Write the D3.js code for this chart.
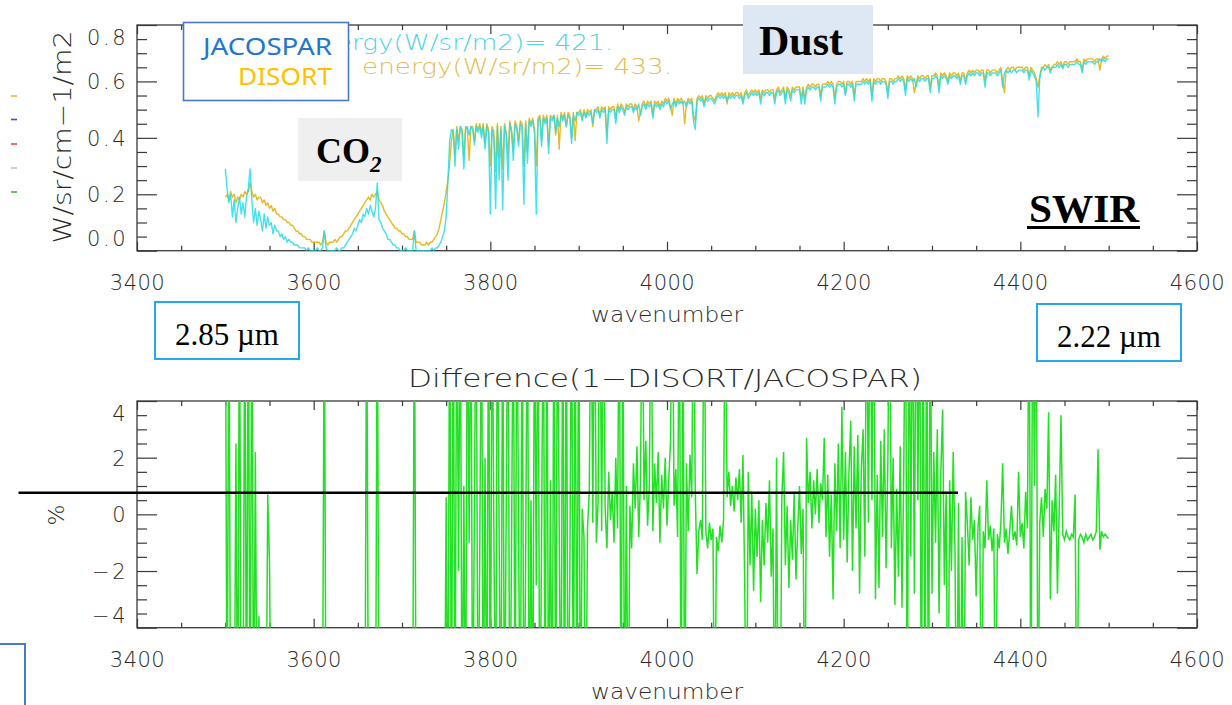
<!DOCTYPE html>
<html>
<head>
<meta charset="utf-8">
<script src="https://cdn.jsdelivr.net/npm/d3@7"></script>
<style>
  body { margin: 0; background: #fff; }
  svg { display: block; }
</style>
</head>
<body>
<svg id="chart" width="1232" height="705"></svg>
<script>
// Spectral grid: wavenumber (cm-1) of the first sample and sample spacing
const wnStart = 3500;
const wnStep = 2;

// Radiance (W/sr/cm-1/m2) from the JACOSPAR model, one row per 20 cm-1
const jacospar = [
  0.29, 0.22, 0.17, 0.20, 0.12, 0.18, 0.10, 0.15, 0.19, 0.13,
  0.17, 0.12, 0.19, 0.22, 0.29, 0.18, 0.10, 0.15, 0.09, 0.14,
  0.11, 0.07, 0.13, 0.08, 0.12, 0.09, 0.10, 0.06, 0.09, 0.07,
  0.07, 0.05, 0.06, 0.04, 0.05, 0.03, 0.04, 0.03, 0.03, 0.02,
  0.02, 0.02, 0.01, 0.01, 0.01, 0.01, 0.00, 0.01, 0.00, 0.00,
  0.00, 0.00, 0.01, 0.00, 0.00, 0.01, 0.07, 0.01, 0.00, 0.00,
  0.00, 0.00, 0.00, 0.01, 0.00, 0.00, 0.01, 0.01, 0.02, 0.03,
  0.04, 0.05, 0.06, 0.08, 0.07, 0.09, 0.11, 0.10, 0.13, 0.12,
  0.15, 0.13, 0.16, 0.14, 0.12, 0.15, 0.24, 0.11, 0.10, 0.08,
  0.07, 0.06, 0.04, 0.04, 0.03, 0.02, 0.02, 0.01, 0.01, 0.00,
  0.00, 0.00, 0.01, 0.00, 0.00, 0.00, 0.00, 0.07, 0.00, 0.00,
  0.00, 0.00, 0.00, 0.00, 0.00, 0.00, 0.00, 0.01, 0.00, 0.01,
  0.01, 0.02, 0.03, 0.05, 0.07, 0.12, 0.25, 0.39, 0.43, 0.42,
  0.30, 0.43, 0.36, 0.44, 0.42, 0.29, 0.43, 0.44, 0.41, 0.44,
  0.43, 0.375, 0.44, 0.42, 0.44, 0.40, 0.44, 0.36, 0.44, 0.42,
  0.13, 0.43, 0.40, 0.15, 0.44, 0.25, 0.43, 0.145, 0.44, 0.41,
  0.25, 0.45, 0.42, 0.32, 0.45, 0.43, 0.37, 0.45, 0.44, 0.165,
  0.45, 0.31, 0.46, 0.44, 0.46, 0.42, 0.13, 0.46, 0.47, 0.37,
  0.47, 0.45, 0.47, 0.345, 0.47, 0.46, 0.48, 0.42, 0.47, 0.44,
  0.48, 0.46, 0.48, 0.44, 0.48, 0.47, 0.38, 0.48, 0.46, 0.49,
  0.48, 0.49, 0.46, 0.49, 0.47, 0.49, 0.48, 0.49, 0.45, 0.50,
  0.49, 0.50, 0.47, 0.50, 0.49, 0.50, 0.38, 0.50, 0.49, 0.50,
  0.50, 0.45, 0.51, 0.49, 0.51, 0.50, 0.48, 0.51, 0.50, 0.51,
  0.51, 0.49, 0.51, 0.50, 0.52, 0.48, 0.51, 0.52, 0.50, 0.52,
  0.51, 0.52, 0.47, 0.52, 0.51, 0.52, 0.50, 0.52, 0.51, 0.53,
  0.52, 0.53, 0.50, 0.52, 0.53, 0.51, 0.53, 0.52, 0.53, 0.52,
  0.53, 0.51, 0.53, 0.52, 0.53, 0.46, 0.43, 0.53, 0.54, 0.53,
  0.54, 0.51, 0.54, 0.53, 0.54, 0.54, 0.53, 0.52, 0.54, 0.55,
  0.54, 0.55, 0.54, 0.55, 0.53, 0.55, 0.54, 0.55, 0.54, 0.55,
  0.55, 0.54, 0.55, 0.52, 0.55, 0.56, 0.54, 0.55, 0.56, 0.55,
  0.56, 0.55, 0.56, 0.52, 0.56, 0.55, 0.56, 0.56, 0.55, 0.56,
  0.56, 0.52, 0.56, 0.57, 0.55, 0.56, 0.57, 0.52, 0.57, 0.56,
  0.53, 0.57, 0.56, 0.57, 0.57, 0.57, 0.52, 0.57, 0.52, 0.57,
  0.58, 0.57, 0.58, 0.58, 0.57, 0.58, 0.58, 0.53, 0.58, 0.58,
  0.58, 0.59, 0.58, 0.59, 0.58, 0.52, 0.58, 0.59, 0.59, 0.58,
  0.59, 0.55, 0.59, 0.59, 0.58, 0.59, 0.53, 0.59, 0.59, 0.59,
  0.59, 0.60, 0.59, 0.60, 0.59, 0.60, 0.53, 0.60, 0.59, 0.60,
  0.60, 0.59, 0.60, 0.60, 0.59, 0.54, 0.60, 0.60, 0.59, 0.60,
  0.60, 0.61, 0.60, 0.61, 0.60, 0.55, 0.61, 0.60, 0.61, 0.60,
  0.61, 0.58, 0.61, 0.60, 0.61, 0.61, 0.60, 0.61, 0.61, 0.56,
  0.61, 0.61, 0.62, 0.61, 0.56, 0.62, 0.61, 0.62, 0.61, 0.59,
  0.62, 0.61, 0.62, 0.62, 0.61, 0.62, 0.59, 0.62, 0.62, 0.59,
  0.62, 0.63, 0.62, 0.63, 0.62, 0.63, 0.63, 0.62, 0.63, 0.63,
  0.58, 0.63, 0.63, 0.62, 0.63, 0.63, 0.63, 0.62, 0.63, 0.64,
  0.58, 0.63, 0.64, 0.63, 0.64, 0.63, 0.64, 0.64, 0.63, 0.64,
  0.64, 0.64, 0.63, 0.64, 0.64, 0.605, 0.64, 0.63, 0.62, 0.60,
  0.475, 0.61, 0.64, 0.65, 0.64, 0.65, 0.65, 0.63, 0.65, 0.65,
  0.65, 0.66, 0.65, 0.66, 0.645, 0.66, 0.66, 0.65, 0.66, 0.66,
  0.66, 0.66, 0.67, 0.66, 0.66, 0.63, 0.67, 0.66, 0.67, 0.67,
  0.67, 0.67, 0.66, 0.67, 0.67, 0.68, 0.67, 0.68, 0.67, 0.68,
  0.68
];

// Radiance (W/sr/cm-1/m2) from DISORT on the same grid
const disort = [
  0.19, 0.20, 0.18, 0.21, 0.19, 0.20, 0.17, 0.19, 0.18, 0.20,
  0.19, 0.21, 0.20, 0.21, 0.24, 0.21, 0.19, 0.20, 0.18, 0.19,
  0.19, 0.17, 0.18, 0.16, 0.17, 0.15, 0.16, 0.14, 0.15, 0.13,
  0.13, 0.12, 0.12, 0.11, 0.11, 0.10, 0.10, 0.09, 0.09, 0.08,
  0.07, 0.07, 0.06, 0.06, 0.05, 0.05, 0.04, 0.04, 0.04, 0.03,
  0.03, 0.03, 0.03, 0.03, 0.02, 0.03, 0.07, 0.03, 0.02, 0.03,
  0.03, 0.03, 0.04, 0.03, 0.04, 0.05, 0.05, 0.06, 0.07, 0.07,
  0.08, 0.09, 0.10, 0.11, 0.12, 0.13, 0.14, 0.15, 0.16, 0.17,
  0.18, 0.19, 0.18, 0.20, 0.19, 0.20, 0.21, 0.18, 0.17, 0.16,
  0.14, 0.13, 0.12, 0.11, 0.10, 0.09, 0.08, 0.08, 0.07, 0.07,
  0.06, 0.06, 0.05, 0.05, 0.04, 0.04, 0.04, 0.07, 0.03, 0.03,
  0.03, 0.02, 0.02, 0.02, 0.03, 0.02, 0.03, 0.03, 0.04, 0.05,
  0.06, 0.08, 0.11, 0.14, 0.17, 0.21, 0.25, 0.31, 0.39, 0.43,
  0.34, 0.44, 0.39, 0.44, 0.43, 0.33, 0.44, 0.43, 0.32, 0.44,
  0.44, 0.39, 0.45, 0.43, 0.45, 0.42, 0.45, 0.38, 0.45, 0.43,
  0.30, 0.44, 0.42, 0.28, 0.45, 0.33, 0.44, 0.29, 0.45, 0.42,
  0.33, 0.46, 0.43, 0.36, 0.46, 0.44, 0.39, 0.46, 0.45, 0.30,
  0.46, 0.35, 0.47, 0.45, 0.47, 0.43, 0.30, 0.47, 0.48, 0.39,
  0.48, 0.46, 0.48, 0.37, 0.48, 0.47, 0.48, 0.41, 0.48, 0.36,
  0.49, 0.47, 0.49, 0.44, 0.49, 0.48, 0.40, 0.49, 0.39, 0.49,
  0.49, 0.50, 0.47, 0.50, 0.48, 0.50, 0.49, 0.50, 0.44, 0.50,
  0.50, 0.51, 0.48, 0.51, 0.50, 0.51, 0.41, 0.51, 0.50, 0.51,
  0.51, 0.47, 0.52, 0.50, 0.52, 0.51, 0.49, 0.52, 0.51, 0.52,
  0.52, 0.50, 0.52, 0.51, 0.46, 0.49, 0.52, 0.53, 0.51, 0.53,
  0.52, 0.53, 0.48, 0.53, 0.52, 0.53, 0.51, 0.53, 0.52, 0.54,
  0.53, 0.54, 0.51, 0.48, 0.54, 0.52, 0.54, 0.53, 0.54, 0.53,
  0.45, 0.52, 0.54, 0.53, 0.54, 0.48, 0.46, 0.54, 0.55, 0.54,
  0.55, 0.52, 0.55, 0.54, 0.55, 0.55, 0.54, 0.53, 0.55, 0.56,
  0.55, 0.56, 0.55, 0.56, 0.52, 0.56, 0.55, 0.56, 0.55, 0.56,
  0.56, 0.55, 0.56, 0.53, 0.56, 0.57, 0.55, 0.56, 0.57, 0.56,
  0.57, 0.56, 0.57, 0.54, 0.57, 0.56, 0.57, 0.57, 0.56, 0.57,
  0.57, 0.54, 0.57, 0.58, 0.56, 0.57, 0.58, 0.54, 0.58, 0.57,
  0.55, 0.58, 0.57, 0.58, 0.58, 0.58, 0.54, 0.58, 0.54, 0.58,
  0.59, 0.58, 0.59, 0.59, 0.58, 0.59, 0.59, 0.55, 0.59, 0.59,
  0.59, 0.60, 0.59, 0.60, 0.59, 0.54, 0.59, 0.60, 0.60, 0.59,
  0.60, 0.56, 0.60, 0.60, 0.59, 0.60, 0.55, 0.60, 0.60, 0.60,
  0.60, 0.61, 0.60, 0.61, 0.60, 0.61, 0.55, 0.61, 0.60, 0.61,
  0.61, 0.60, 0.61, 0.61, 0.60, 0.56, 0.61, 0.61, 0.60, 0.61,
  0.61, 0.62, 0.61, 0.62, 0.61, 0.57, 0.62, 0.61, 0.62, 0.61,
  0.56, 0.59, 0.62, 0.61, 0.62, 0.62, 0.61, 0.62, 0.62, 0.58,
  0.62, 0.62, 0.63, 0.62, 0.58, 0.63, 0.62, 0.63, 0.62, 0.60,
  0.63, 0.62, 0.63, 0.63, 0.62, 0.63, 0.60, 0.63, 0.63, 0.60,
  0.63, 0.64, 0.63, 0.64, 0.63, 0.64, 0.64, 0.63, 0.64, 0.64,
  0.60, 0.64, 0.64, 0.63, 0.64, 0.64, 0.64, 0.63, 0.64, 0.65,
  0.60, 0.56, 0.64, 0.65, 0.64, 0.65, 0.65, 0.64, 0.65, 0.65,
  0.65, 0.65, 0.64, 0.65, 0.65, 0.62, 0.65, 0.64, 0.63, 0.61,
  0.58, 0.62, 0.65, 0.65, 0.66, 0.65, 0.66, 0.64, 0.65, 0.66,
  0.66, 0.67, 0.66, 0.67, 0.65, 0.67, 0.67, 0.66, 0.67, 0.67,
  0.67, 0.67, 0.68, 0.67, 0.67, 0.64, 0.68, 0.67, 0.68, 0.68,
  0.68, 0.68, 0.67, 0.68, 0.68, 0.64, 0.68, 0.69, 0.68, 0.69,
  0.69
];

// Relative difference 1 - DISORT/JACOSPAR in percent; +/-9 marks values beyond the plotted range
const diffPct = [
   9, -9,  9, -9, -9, -9, 2.5, -9,  9, -9,
  -9,  9, -9,  9, -9,  9, -9, 2.2, -9, -3.6,
  -9, -9, -9, -9, 0.7, -1.7, -9, -9, -9, -9,
  -9, -9, -9, -9, -9, -9, -9, -9, -9, -9,
  -9, -9, -9, -9, -9, -9, -9, -9, -9, -9,
  -9, -9, -9, -9, -9, -9,  9, -9, -9, -9,
  -9, -9, -9, -9, -9, -9, -9, -9, -9, -9,
  -9, -9, -9, -9, -9, -9, -9, -9, -9, -9,
   9, -9, -9, -9, -9, -9,  9, -9, -9, -9,
  -9, -9, -9, -9, -9, -9, -9, -9, -9, -9,
  -9, -9, -9, -9, -9, -9, -9,  9, -9, -9,
  -9, -9, -9, -9, -9, -9, -9, -9, -9, -9,
  -9, -9, -9, -9, -9, 0.6, -9,  9, -9,  9,
  -9,  9, -2,  9, -9,  1, -9,  9, -1,  9,
  -9, 0.5,  9, -9, -1.5,  9, -9,  2, -9,  9,
  -9,  9, -0.5, -9,  9, -1, -9,  9, -9, 0.3,
   9, -9, -1.2,  9, -9,  9, -0.8, -9,  9, -9,
  -1.5,  9, -9, 0.5, -9,  9, -2.5,  9, -9, -1,
   9, -9,  9, -9, 1.2, -9,  9, -9,  9, -0.5,
  -9,  9, -9,  9, -9, -2,  9, -9,  9, -9,
   9, -9, 0.2, -0.8, -9, -0.5, 0.8,  9, -0.3,  9,
  -1.0, 0.4,  9, -0.6,  9, 0.2, -1.2, 1.5, -0.2, 0.8,
  -1.0, 2.0, -0.5,  9, -9,  9, -9, 1.0, -9, 0.3,
  -1.2, 1.8, 0.2, 2.4, -0.8, 1.2,  9, 0.5, 2.6, -0.4,
  1.0,  9, -0.6, 1.8, 0.4, 2.2, -1.0, 1.4, 0.2, 2.0,
  -0.4, 1.2, 2.6,  9, 0.3, 1.6, -0.8,  9, -9,  9,
  -9, 1.8, -0.6, 2.1, 0.6,  9, 0.8, -2.1, -0.6, -0.2,
  -0.9,  9, -0.6, -1.2, -0.3, -0.9, -0.5, -9, -0.8, -1.3,
  -0.4, -1.0, -0.2,  9, 0.6, 1.5, 0.3, 1.0, 0.1, 1.3,
  0.5, 1.6, -0.3, 2.1, -2.5, -9, 1.5, -1.8, 0.8, -2.7,
  0.2, -1.5, 0.5, -3.1, -0.2, -1.8, 0.4, -1.0, 1.2, -2.2,
  -0.5, -9, 2.0, -9, -9, 0.6, 2.2, -1.8, 0.3, -2.6,
  -0.2, -1.6, 0.8, -2.3, -0.5, 1.0, -1.4, 0.2, -9, 2.7,
  0.4, 1.5, -0.5, 1.2, 0.0, 1.6, -0.3, 1.1, 0.5, 2.7,
  -0.8, 1.4, -1.5, 0.7, -3.0, 1.8, -0.6, 2.5, -1.2, 3.8,
  -0.9, 2.2, -1.7, 1.5, 3.3, -2.0, 2.4, -0.5, 2.8, -2.8,
  1.6, 3.0, -1.5,  9, -0.3,  9, 0.5,  9, -3.0, 1.4,
  -2.6, 2.6, -0.8, 3.0, -1.9, 1.8,  9, -1.2, 2.0, -3.2,
  0.9, -2.2, 2.4, -3.3, 1.5,  9, -9,  9, -1.5,  9,
  -2.8,  9, 0.5,  9, -9,  9, -9,  9, -9,  9,
  -2.8, 2.2, -1.0, 3.0, -3.5, 1.5, 3.7, -2.5, 0.8, -9,
  1.2, -2.0, 2.2, -1.2, -9, 0.4, -9, -0.8, -9, 0.8,
  -0.3, -1.8, 0.6, -0.9, -0.2, -2.9, -0.5, 0.3, -9, -0.6,
  -1.2, 1.2, -0.9, -0.4, -1.3, -0.5, -9, -0.7, -1.2, -0.3,
  1.8, -1.0, -0.5, -1.4, -0.6, 0.3, -0.9, -0.6, -1.1, 1.5,
  -0.8, -0.3, -1.2, 0.8, -0.5,  9, -9,  9, 1.0,  9,
  -9, -0.3, 0.6, -0.8, 0.9, 0.2, 3.6, -3.0, 0.5, -0.6,
  1.4, -2.8, 0.2, 3.5, -0.7, -0.9, -0.6, -0.8, -0.9, -0.7,
  -0.8, 0.7, -9, -0.9, -0.7, -0.8, -1.0, -0.7, -0.9, -0.8,
  -0.7, -0.9, -0.8, -0.6, 2.3, -1.25, -0.6, -0.8, -0.7, -0.8,
  -0.85
];

// Axis ranges and tick labels
const xDomain = [3400, 4600];
const xTickLabels = [3400, 3600, 3800, 4000, 4200, 4400, 4600];
const radDomain = [0, 0.8];
const radTickLabels = [0.0, 0.2, 0.4, 0.6, 0.8];
const pctDomain = [-4, 4];
const pctTickLabels = [-4, -2, 0, 2, 4];

// Band-integrated energies printed in the top panel
const energyJacospar = 421;
const energyDisort = 433;

const W = 1232, H = 705;
const svg = d3.select("#chart");
svg.append("rect").attr("width", W).attr("height", H).attr("fill", "#fff");

const plotL = 137, plotR = 1197;
const topPanel = { top: 25, bottom: 250.7 };
const botPanel = { top: 401, bottom: 627.7 };

const x = d3.scaleLinear().domain(xDomain).range([plotL, plotR]);
const yRad = d3.scaleLinear().domain(radDomain).range([topPanel.bottom, topPanel.top]);
const yPct = d3.scaleLinear().domain(pctDomain).range([botPanel.bottom, botPanel.top]);

const axisFont = "'DejaVu Sans', 'Liberation Sans', sans-serif";
const inkColor = "#2a2a2a";

// clip regions for the two panels
const defs = svg.append("defs");
defs.append("clipPath").attr("id", "clipTop").append("rect")
  .attr("x", plotL).attr("y", topPanel.top)
  .attr("width", plotR - plotL).attr("height", topPanel.bottom - topPanel.top);
defs.append("clipPath").attr("id", "clipBot").append("rect")
  .attr("x", plotL).attr("y", botPanel.top)
  .attr("width", plotR - plotL).attr("height", botPanel.bottom - botPanel.top);

function styleAxis(g, spacing) {
  g.select(".domain").remove();
  g.selectAll("line").attr("stroke", "#3a3a3a").attr("stroke-width", 1.2);
  g.selectAll("text")
    .attr("font-family", axisFont)
    .attr("font-size", 21)
    .attr("font-weight", 300)
    .attr("letter-spacing", spacing || 0)
    .attr("fill", inkColor);
}

function drawPanel(panel, yScale, yLabels, yMinorStep, yMajorStep, fmt) {
  const g = svg.append("g");
  const xMinor = d3.range(xDomain[0], xDomain[1] + 1, 50).filter(v => v % 200 !== 0);

  // x ticks on bottom and top edges (pointing inward)
  g.append("g").attr("transform", `translate(0,${panel.bottom})`)
    .call(d3.axisBottom(x).tickValues(xMinor).tickSize(-5).tickFormat(""))
    .call(styleAxis);
  g.append("g").attr("transform", `translate(0,${panel.bottom})`)
    .call(d3.axisBottom(x).tickValues(xTickLabels).tickSize(-9).tickPadding(24).tickFormat(d3.format("d")))
    .call(styleAxis, 0.5);
  g.append("g").attr("transform", `translate(0,${panel.top})`)
    .call(d3.axisTop(x).tickValues(xMinor).tickSize(-5).tickFormat(""))
    .call(styleAxis);
  g.append("g").attr("transform", `translate(0,${panel.top})`)
    .call(d3.axisTop(x).tickValues(xTickLabels).tickSize(-9).tickFormat(""))
    .call(styleAxis);

  // y ticks on left and right edges
  const d0 = yScale.domain()[0], d1 = yScale.domain()[1];
  const yMinor = d3.range(d0, d1 + yMinorStep / 2, yMinorStep)
    .filter(v => Math.abs(v / yMajorStep - Math.round(v / yMajorStep)) > 1e-6);
  g.append("g").attr("transform", `translate(${plotL},0)`)
    .call(d3.axisLeft(yScale).tickValues(yMinor).tickSize(-10).tickFormat(""))
    .call(styleAxis);
  const left = g.append("g").attr("transform", `translate(${plotL},0)`)
    .call(d3.axisLeft(yScale).tickValues(yLabels).tickSize(-20).tickPadding(9).tickFormat(fmt))
    .call(styleAxis, 2.5);
  g.append("g").attr("transform", `translate(${plotR},0)`)
    .call(d3.axisRight(yScale).tickValues(yMinor).tickSize(-10).tickFormat(""))
    .call(styleAxis);
  g.append("g").attr("transform", `translate(${plotR},0)`)
    .call(d3.axisRight(yScale).tickValues(yLabels).tickSize(-20).tickFormat(""))
    .call(styleAxis);

  // end labels sit just inside the frame
  left.selectAll(".tick text")
    .attr("dy", d => d === d1 ? "0.95em" : d === d0 ? "-0.25em" : "0.36em");

  // frame
  g.append("rect")
    .attr("x", plotL).attr("y", panel.top)
    .attr("width", plotR - plotL).attr("height", panel.bottom - panel.top)
    .attr("fill", "none").attr("stroke", "#3a3a3a").attr("stroke-width", 1.3);

  // x axis title
  g.append("text")
    .attr("x", (plotL + plotR) / 2).attr("y", panel.bottom + 71)
    .attr("text-anchor", "middle")
    .attr("font-family", axisFont).attr("font-size", 22).attr("font-weight", 300)
    .attr("fill", inkColor)
    .attr("textLength", 152).attr("lengthAdjust", "spacingAndGlyphs")
    .text("wavenumber");
  return g;
}

const idxToWn = i => wnStart + i * wnStep;

// ---------- top panel: radiance spectra ----------
drawPanel(topPanel, yRad, radTickLabels, 0.05, 0.2, d3.format(".1f"));

const radLine = d3.line().x((d, i) => x(idxToWn(i))).y(d => yRad(d));
const spectra = svg.append("g").attr("clip-path", "url(#clipTop)");
spectra.append("path").datum(disort)
  .attr("d", radLine).attr("fill", "none")
  .attr("stroke", "#eab825").attr("stroke-width", 1.4).attr("stroke-linejoin", "round");
spectra.append("path").datum(jacospar)
  .attr("d", radLine).attr("fill", "none")
  .attr("stroke", "#22dce6").attr("stroke-width", 1.4).attr("stroke-opacity", 0.85)
  .attr("stroke-linejoin", "round");

// y axis title (rotated)
svg.append("text")
  .attr("transform", "translate(71,137) rotate(-90)")
  .attr("text-anchor", "middle")
  .attr("font-family", axisFont).attr("font-size", 25).attr("font-weight", 300)
  .attr("fill", inkColor)
  .attr("textLength", 213).attr("lengthAdjust", "spacingAndGlyphs")
  .text("W/sr/cm\u22121/m2");

// energy annotations (partly hidden by the legend box)
svg.append("text")
  .attr("x", 303).attr("y", 50)
  .attr("font-family", axisFont).attr("font-size", 21).attr("font-weight", 300)
  .attr("fill", "#4fd2e2")
  .attr("textLength", 310).attr("lengthAdjust", "spacingAndGlyphs")
  .text(`energy(W/sr/m2)= ${energyJacospar}.`);
svg.append("text")
  .attr("x", 362).attr("y", 74)
  .attr("font-family", axisFont).attr("font-size", 21).attr("font-weight", 300)
  .attr("fill", "#e0bd52")
  .attr("textLength", 310).attr("lengthAdjust", "spacingAndGlyphs")
  .text(`energy(W/sr/m2)= ${energyDisort}.`);

// legend box
svg.append("rect")
  .attr("x", 183.5).attr("y", 22.5).attr("width", 165).attr("height", 78)
  .attr("fill", "#fff").attr("stroke", "#4a78c8").attr("stroke-width", 1.6);
const legendFont = "'Noto Sans', 'Open Sans', sans-serif";
svg.append("text")
  .attr("x", 332).attr("y", 55).attr("text-anchor", "end")
  .attr("font-family", legendFont).attr("font-size", 23)
  .attr("fill", "#2277cc")
  .attr("textLength", 129).attr("lengthAdjust", "spacingAndGlyphs")
  .text("JACOSPAR");
svg.append("text")
  .attr("x", 332).attr("y", 85).attr("text-anchor", "end")
  .attr("font-family", legendFont).attr("font-size", 23)
  .attr("fill", "#ffc000")
  .attr("textLength", 94).attr("lengthAdjust", "spacingAndGlyphs")
  .text("DISORT");

// region labels
const serif = "'Liberation Serif', 'Times New Roman', serif";
svg.append("rect").attr("x", 298).attr("y", 118).attr("width", 104).attr("height", 63)
  .attr("fill", "#efefef");
const co2 = svg.append("text")
  .attr("x", 316).attr("y", 163)
  .attr("font-family", serif).attr("font-weight", "bold").attr("font-size", 36)
  .attr("fill", "#000");
co2.append("tspan").text("CO");
co2.append("tspan").attr("dy", 9).attr("font-size", 23).attr("font-style", "italic").text("2");

svg.append("rect").attr("x", 743).attr("y", 5).attr("width", 130).attr("height", 69)
  .attr("fill", "#dde8f4");
svg.append("text")
  .attr("x", 801).attr("y", 55).attr("text-anchor", "middle")
  .attr("font-family", serif).attr("font-weight", "bold").attr("font-size", 42)
  .attr("fill", "#000").text("Dust");

svg.append("text")
  .attr("x", 1029).attr("y", 222)
  .attr("font-family", serif).attr("font-weight", "bold").attr("font-size", 40)
  .attr("fill", "#000")
  .attr("textLength", 110).attr("lengthAdjust", "spacingAndGlyphs")
  .text("SWIR");
svg.append("line").attr("x1", 1027).attr("x2", 1140).attr("y1", 227.5).attr("y2", 227.5)
  .attr("stroke", "#000").attr("stroke-width", 3);

// wavelength marks
const lambdaBoxes = [
  { x: 155, y: 302, w: 144, h: 57, label: "2.85 \u00b5m" },
  { x: 1037, y: 304, w: 144, h: 57, label: "2.22 \u00b5m" }
];
lambdaBoxes.forEach(b => {
  svg.append("rect").attr("x", b.x).attr("y", b.y).attr("width", b.w).attr("height", b.h)
    .attr("fill", "#fff").attr("stroke", "#22aaee").attr("stroke-width", 2);
  svg.append("text")
    .attr("x", b.x + b.w / 2).attr("y", b.y + 43).attr("text-anchor", "middle")
    .attr("font-family", serif).attr("font-size", 31).attr("fill", "#000")
    .text(b.label);
});

// small colour keys on the far left
const keyColors = ["#f2b233", "#4545f0", "#f04545", "#c4c4c4", "#45b045"];
const keyY = [96, 119.5, 144, 168, 192];
keyColors.forEach((c, i) => {
  svg.append("line").attr("x1", 11).attr("x2", 17).attr("y1", keyY[i]).attr("y2", keyY[i])
    .attr("stroke", c).attr("stroke-width", 1.6);
});

// ---------- bottom panel: relative difference ----------
drawPanel(botPanel, yPct, pctTickLabels, 0.5, 2, d => d3.format("d")(d).replace("-", "\u2212"));

svg.append("text")
  .attr("x", (plotL + plotR) / 2 - 2).attr("y", 387).attr("text-anchor", "middle")
  .attr("font-family", axisFont).attr("font-size", 25).attr("font-weight", 300)
  .attr("fill", inkColor)
  .attr("textLength", 514).attr("lengthAdjust", "spacingAndGlyphs")
  .text("Difference(1\u2212DISORT/JACOSPAR)");

svg.append("text")
  .attr("transform", "translate(64,515) rotate(-90)")
  .attr("text-anchor", "middle")
  .attr("font-family", axisFont).attr("font-size", 22).attr("font-weight", 300)
  .attr("fill", inkColor).text("%");

const pctLine = d3.line().x((d, i) => x(idxToWn(i))).y(d => yPct(d));
svg.append("g").attr("clip-path", "url(#clipBot)")
  .append("path").datum(diffPct)
  .attr("d", pctLine).attr("fill", "none")
  .attr("stroke", "#24e024").attr("stroke-width", 1.5);

// reference line across the difference panel
svg.append("line").attr("x1", 18.5).attr("x2", 958).attr("y1", 492.7).attr("y2", 492.7)
  .attr("stroke", "#000").attr("stroke-width", 2.4);

// corner of a frame at the lower-left edge
svg.append("path").attr("d", "M0,644 H25 V705")
  .attr("fill", "none").attr("stroke", "#4a78c8").attr("stroke-width", 2);
</script>
</body>
</html>
